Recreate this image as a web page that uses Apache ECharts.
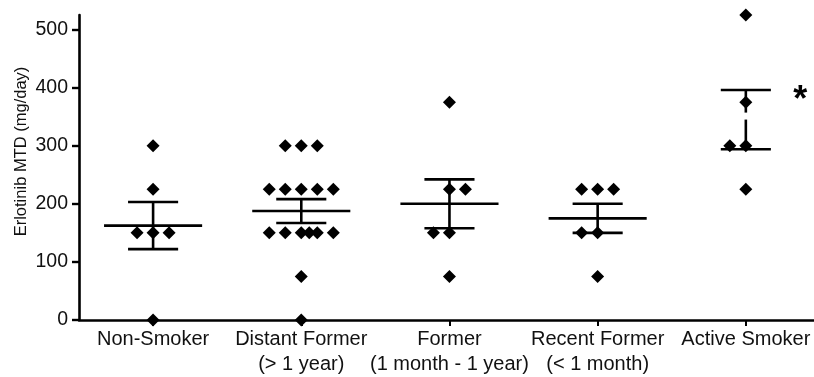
<!DOCTYPE html>
<html>
<head>
<meta charset="utf-8">
<script src="https://cdn.jsdelivr.net/npm/echarts@6/dist/echarts.min.js"></script>
<style>
html,body{margin:0;padding:0;background:#fff;}
#c{width:814px;height:377px;}
</style>
</head>
<body>
<div id="c"></div>
<script>
// ---- data ----
const categories = ['Non-Smoker', 'Distant Former\n(> 1 year)', 'Former\n(1 month - 1 year)', 'Recent Former\n(< 1 month)', 'Active Smoker'];
const nonSmoker     = [300, 225, 150, 150, 150, 0];
const distantFormer = [300, 300, 300, 225, 225, 225, 225, 225, 150, 150, 150, 150, 150, 150, 75, 0];
const former        = [375, 225, 225, 150, 150, 75];
const recentFormer  = [225, 225, 225, 150, 150, 75];
const activeSmoker  = [525, 375, 300, 300, 225];
// horizontal jitter slots of each point (scatter column position)
const nonSmokerSlots     = [0, 0, -1, 0, 1, 0];
const distantFormerSlots = [-1, 0, 1, -2, -1, 0, 1, 2, -2, -1, 0, 0.5, 1, 2, 0, 0];
const formerSlots        = [0, 0, 1, -1, 0, 0];
const recentFormerSlots  = [-1, 0, 1, -1, 0, 0];
const activeSmokerSlots  = [0, 0, -1, 0, 0];
// mean and SEM bars
const means    = [162.5, 187.5, 200, 175, 345];
const semUpper = [203, 208, 242, 200, 396];
const semLower = [122, 167, 158, 150, 294];
const meanLineShown = [true, true, true, true, false];
const barGap = [null, null, null, null, [345, 357]];
const yTicks = [0, 100, 200, 300, 400, 500];
const xTicks = [0, 1, 2, 3, 4];

// ---- styling constants ----
const SLOT = 0.108;
const CAP_HALF = 0.169;
const MEAN_HALF = 0.331;
const LW = 2.6;

const groups = [
  [nonSmoker, nonSmokerSlots],
  [distantFormer, distantFormerSlots],
  [former, formerSlots],
  [recentFormer, recentFormerSlots],
  [activeSmoker, activeSmokerSlots]
];
const points = [];
groups.forEach(function (g, gi) {
  g[0].forEach(function (v, k) { points.push([gi + g[1][k] * SLOT, v]); });
});
const barData = means.map(function (m, i) { return [i, m, semUpper[i], semLower[i]]; });

const chart = echarts.init(document.getElementById('c'), null, {renderer: 'canvas'});
const FONT = '"Liberation Sans", Arial, Helvetica, sans-serif';
chart.setOption({
  animation: false,
  backgroundColor: '#fff',
  grid: {left: 79, right: 0, top: 15, bottom: 57, containLabel: false},
  xAxis: {
    type: 'value', min: -0.5, max: 4.46,
    splitLine: {show: false},
    axisLine: {show: true, onZero: false, lineStyle: {color: '#000', width: LW}},
    axisTick: {show: true, customValues: xTicks, length: 6, lineStyle: {color: '#000', width: 2}},
    axisLabel: {
      show: true, customValues: xTicks, margin: 7,
      color: '#111', fontFamily: FONT, fontSize: 20, lineHeight: 25,
      formatter: function (v) { return categories[Math.round(v)] || ''; }
    }
  },
  yAxis: {
    type: 'value', min: 0, max: 525,
    splitLine: {show: false},
    axisLine: {show: true, onZero: false, lineStyle: {color: '#000', width: LW}},
    axisTick: {show: true, customValues: yTicks, length: 7, lineStyle: {color: '#000', width: 2.4}},
    axisLabel: {show: true, customValues: yTicks, margin: 11, color: '#111', fontFamily: FONT, fontSize: 19.5}
  },
  graphic: [{
    type: 'text', x: 21, y: 151.5, rotation: Math.PI / 2,
    style: {text: 'Erlotinib MTD (mg/day)', fill: '#111', font: '16.5px ' + FONT, align: 'center', verticalAlign: 'middle'}
  }],
  series: [
    {
      type: 'custom',
      data: barData,
      clip: false,
      z: 2,
      renderItem: function (params, api) {
        const i = api.value(0);
        const m = api.value(1), up = api.value(2), lo = api.value(3);
        const st = {stroke: '#000', lineWidth: LW};
        const children = [];
        const pUpL = api.coord([i - CAP_HALF, up]), pUpR = api.coord([i + CAP_HALF, up]);
        const pLoL = api.coord([i - CAP_HALF, lo]), pLoR = api.coord([i + CAP_HALF, lo]);
        children.push({type: 'line', shape: {x1: pUpL[0], y1: pUpL[1], x2: pUpR[0], y2: pUpR[1]}, style: st});
        children.push({type: 'line', shape: {x1: pLoL[0], y1: pLoL[1], x2: pLoR[0], y2: pLoR[1]}, style: st});
        const gap = barGap[i];
        if (gap) {
          const a = api.coord([i, lo]), b = api.coord([i, gap[0]]), c = api.coord([i, gap[1]]), d = api.coord([i, up]);
          children.push({type: 'line', shape: {x1: a[0], y1: a[1], x2: b[0], y2: b[1]}, style: st});
          children.push({type: 'line', shape: {x1: c[0], y1: c[1], x2: d[0], y2: d[1]}, style: st});
        } else {
          const a = api.coord([i, lo]), d = api.coord([i, up]);
          children.push({type: 'line', shape: {x1: a[0], y1: a[1], x2: d[0], y2: d[1]}, style: st});
        }
        if (meanLineShown[i]) {
          const mL = api.coord([i - MEAN_HALF, m]), mR = api.coord([i + MEAN_HALF, m]);
          children.push({type: 'line', shape: {x1: mL[0], y1: mL[1], x2: mR[0], y2: mR[1]}, style: st});
        }
        return {type: 'group', children: children};
      }
    },
    {
      type: 'scatter',
      data: points,
      symbol: 'diamond',
      symbolSize: [13, 13],
      clip: false,
      z: 3,
      itemStyle: {color: '#000', opacity: 1}
    },
    {
      type: 'scatter',
      data: [[4.368, 389]],
      symbolSize: 1,
      itemStyle: {color: 'rgba(0,0,0,0)', opacity: 1},
      label: {show: true, formatter: '*', position: 'inside', color: '#000', fontFamily: FONT, fontWeight: 'bold', fontSize: 36, offset: [0, 7]},
      z: 4
    }
  ]
});
</script>
</body>
</html>
